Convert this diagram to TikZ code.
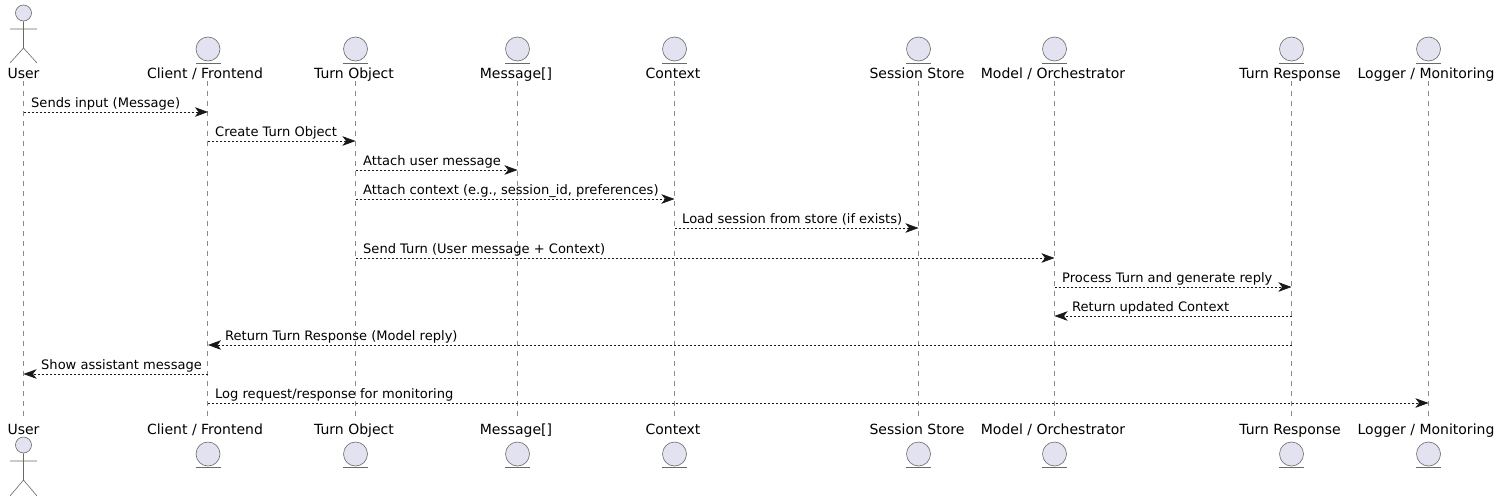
\documentclass[tikz,border=0pt]{standalone}
\usepackage{fontspec}
\setmainfont{DejaVu Sans}
\usetikzlibrary{arrows.meta}
\definecolor{partfill}{HTML}{E2E2F0}
\definecolor{partline}{HTML}{181818}
\begin{document}
\begin{tikzpicture}[
  x=1pt, y=-1pt,
  entity/.style={circle, draw=partline!65, fill=partfill, line width=0.6pt,
                 minimum size=24pt, inner sep=0pt},
  partname/.style={font=\fontsize{14}{16}\selectfont, inner sep=0pt, anchor=base},
  life/.style={draw=partline!50, line width=0.6pt, dash pattern=on 5pt off 5pt},
  msg/.style={-{Stealth[length=13pt,width=9.5pt,inset=3.5pt]}, partline,
              line width=0.6pt, dash pattern=on 2pt off 2pt},
  msgtext/.style={font=\fontsize{13.05}{15}\selectfont, inner sep=0pt, anchor=base west},
  stick/.style={draw=partline!65, line width=0.6pt}
]
\useasboundingbox (0,0) rectangle (1499,501);
% participants, top and bottom
\foreach \id/\px/\tx/\txt in {client/207.5/205/{Client / Frontend}, turn/355/354/Turn Object,
    messages/517/516/Message[], context/674/673/Context, store/918/917/Session Store,
    model/1054/1053/{Model / Orchestrator}, response/1291/1290/Turn Response,
    logger/1428/1426/{Logger / Monitoring}} {
  \node[entity] (\id) at (\px+0.5,49) {};
  \draw[stick] (\px-12,63) -- (\px+13,63);
  \node[partname] (\id T) at (\tx,78) {\txt};
  \node[entity] (\id B) at (\px+0.5,454) {};
  \draw[stick] (\px-12,467) -- (\px+13,467);
  \node[partname] (\id L) at (\tx,434) {\txt};
  \draw[life] (\px,81) -- (\px,420);
}
% actor
\node[entity, minimum size=16pt] (user) at (23.5,13) {};
\draw[stick] (user) -- (23.5,48) (10,29) -- (37,29) (10,63) -- (23.5,48) -- (37,63);
\node[partname] (userT) at (23.5,78) {User};
\node[partname] (userL) at (23.5,434) {User};
\node[entity, minimum size=16pt] (userB) at (23.5,445) {};
\draw[stick] (userB) -- (23.5,480) (10,461) -- (37,461) (10,496) -- (23.5,480) -- (37,496);
\draw[life] (23.5,81) -- (23.5,420);
% messages
\draw[msg] (user |- 0,112) -- (client |- 0,112);
\node[msgtext] (m1) at (31,107) {Sends input (Message)};
\draw[msg] (client |- 0,141) -- (turn |- 0,141);
\node[msgtext] (m2) at (215,136) {Create Turn Object};
\draw[msg] (turn |- 0,170) -- (messages |- 0,170);
\node[msgtext] (m3) at (363,165) {Attach user message};
\draw[msg] (turn |- 0,199) -- (context |- 0,199);
\node[msgtext] (m4) at (363,194) {Attach context (e.g., session\_id, preferences)};
\draw[msg] (context |- 0,228) -- (store |- 0,228);
\node[msgtext] (m5) at (682,223) {Load session from store (if exists)};
\draw[msg] (turn |- 0,258) -- (model |- 0,258);
\node[msgtext] (m6) at (363,253) {Send Turn (User message + Context)};
\draw[msg] (model |- 0,287) -- (response |- 0,287);
\node[msgtext] (m7) at (1062,282) {Process Turn and generate reply};
\draw[msg] (response |- 0,316) -- (model |- 0,316);
\node[msgtext] (m8) at (1072,311) {Return updated Context};
\draw[msg] (response |- 0,345) -- (client |- 0,345);
\node[msgtext] (m9) at (225,340) {Return Turn Response (Model reply)};
\draw[msg] (client |- 0,374) -- (user |- 0,374);
\node[msgtext] (m10) at (41,369) {Show assistant message};
\draw[msg] (client |- 0,403) -- (logger |- 0,403);
\node[msgtext] (m11) at (215,398) {Log request/response for monitoring};
\end{tikzpicture}
\end{document}
